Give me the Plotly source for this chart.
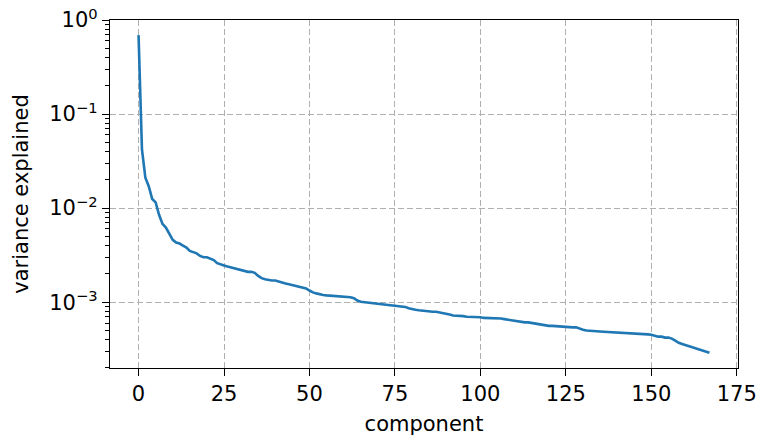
import plotly.graph_objects as go

variance = [
    0.69, 0.042, 0.021, 0.017, 0.0125, 0.0115, 0.0085, 0.0068, 0.0062, 0.0053,
    0.0046, 0.0043, 0.0042, 0.0040, 0.0038, 0.0035, 0.0034, 0.0033, 0.0031, 0.0030,
    0.0030, 0.0029, 0.0028, 0.0026, 0.0025, 0.00245, 0.0024, 0.00235, 0.0023, 0.00225,
    0.0022, 0.00215, 0.0021, 0.0021, 0.00205, 0.0019, 0.0018, 0.00175, 0.00172, 0.0017,
    0.0017, 0.00165, 0.0016, 0.00158, 0.00155, 0.00152, 0.0015, 0.00147, 0.00143, 0.0014,
    0.00133, 0.00127, 0.00124, 0.00121, 0.00119, 0.00118, 0.00117, 0.00116, 0.00116, 0.00115,
    0.00114, 0.00114, 0.00113, 0.00110, 0.00104, 0.00101, 0.00100, 0.00099, 0.00098, 0.00097,
    0.00096, 0.00095, 0.00095, 0.00094, 0.00093, 0.00093, 0.00092, 0.00091, 0.00089, 0.00086,
    0.00084, 0.00083, 0.00082, 0.00081, 0.00081, 0.00080, 0.00079, 0.00079, 0.00078, 0.00077,
    0.00076, 0.00074, 0.00072, 0.00072, 0.00071, 0.00071, 0.00070, 0.00070, 0.00069, 0.00069,
    0.00069, 0.00068, 0.00068, 0.00068, 0.00067, 0.00067, 0.00067, 0.00066, 0.00065, 0.00065,
    0.00064, 0.00063, 0.00062, 0.00061, 0.00061, 0.00060, 0.00060, 0.00059, 0.00058, 0.00057,
    0.00056, 0.00056, 0.000555, 0.00055, 0.00055, 0.00055, 0.000545, 0.00054, 0.00054, 0.00052,
    0.00051, 0.00050, 0.000495, 0.00049, 0.00049, 0.000488, 0.000485, 0.000483, 0.00048, 0.00048,
    0.000478, 0.000475, 0.000472, 0.00047, 0.000468, 0.000465, 0.000462, 0.00046, 0.000457, 0.000454,
    0.00045, 0.00044, 0.00043, 0.00043, 0.00042, 0.00042, 0.00041, 0.00039, 0.00037, 0.00036,
    0.00035, 0.00034, 0.00033, 0.00032, 0.00031, 0.000305, 0.000295, 0.00029,
]
component = list(range(len(variance)))

x_ticks = [0, 25, 50, 75, 100, 125, 150, 175]
y_ticks = [1e-3, 1e-2, 1e-1, 1.0]
y_tick_text = ["10<sup>−3</sup>", "10<sup>−2</sup>", "10<sup>−1</sup>", "10<sup>0</sup>"]
y_minor = [m * 10.0 ** e for e in (-4, -3, -2, -1) for m in range(2, 10)]
Y_RANGE = [-3.70, 0.0]

fig = go.Figure()
fig.add_trace(go.Scatter(
    x=component, y=variance, mode="lines",
    line=dict(color="#1f77b4", width=2.6),
    showlegend=False, hoverinfo="skip", cliponaxis=False,
))

FONT = "DejaVu Sans"
axis_common = dict(
    showline=True, linecolor="black", linewidth=1.3, mirror=True,
    ticks="outside", ticklen=7, tickwidth=1.3, tickcolor="black",
    showgrid=True, gridcolor="#b0b0b0", gridwidth=1.3, griddash="5.5px,3.5px",
    zeroline=False, automargin=False,
    tickfont=dict(family=FONT, size=21, color="black"),
)

fig.update_layout(
    xaxis=dict(
        **axis_common,
        range=[-8.35, 175.35],
        tickmode="array", tickvals=x_ticks,
        title=dict(text="component", font=dict(family=FONT, size=21, color="black"), standoff=14),
    ),
    yaxis=dict(
        **axis_common,
        type="log",
        range=Y_RANGE,
        tickmode="array", tickvals=y_ticks, ticktext=y_tick_text,
        minor=dict(ticks="outside", ticklen=4, tickwidth=1, tickcolor="black",
                   tickvals=y_minor, showgrid=False),
        title=dict(text="variance explained", font=dict(family=FONT, size=21, color="black"), standoff=14),
    ),
    width=758, height=436,
    margin=dict(l=110, r=20, t=20, b=68),
    paper_bgcolor="white", plot_bgcolor="white",
    font=dict(family=FONT, color="black"),
)

fig.write_html("out.html")
